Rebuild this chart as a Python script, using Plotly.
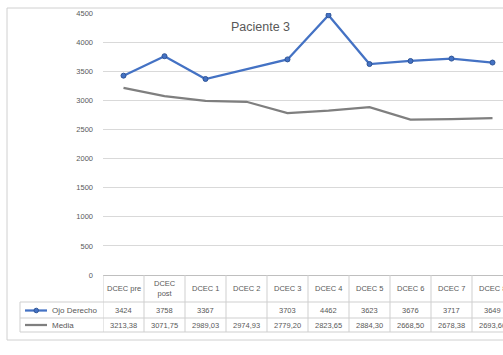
import plotly.graph_objects as go

# Sessions and measurements
categories = ["DCEC pre", "DCEC post", "DCEC 1", "DCEC 2", "DCEC 3",
              "DCEC 4", "DCEC 5", "DCEC 6", "DCEC 7", "DCEC 8"]
ojo_derecho = [3424, 3758, 3367, None, 3703, 4462, 3623, 3676, 3717, 3649]
media = [3213.38, 3071.75, 2989.03, 2974.93, 2779.20, 2823.65,
         2884.30, 2668.50, 2678.38, 2693.60]
y_ticks = [0, 500, 1000, 1500, 2000, 2500, 3000, 3500, 4000, 4500]

BLUE = "#4472c4"
GREY = "#7f7f7f"
TEXT = "#595959"
GRID = "#d9d9d9"
FONT = "Liberation Sans, Arial, sans-serif"

W, H = 503, 355
L, R, T, B = 103, 0, 13, 80
PLOT_H = H - T - B
PLOT_W = W - L - R
COL_W = 41.0  # pixel width of one category column


def py(p):
    """pixel row -> paper y"""
    return (H - B - p) / PLOT_H


def px(p):
    """pixel column -> paper x"""
    return (p - L) / PLOT_W


fig = go.Figure()
fig.add_trace(go.Scatter(
    x=categories, y=ojo_derecho, name="Ojo Derecho", mode="lines+markers",
    connectgaps=True, line=dict(color=BLUE, width=2.25),
    marker=dict(size=5, color=BLUE, line=dict(color="#2f5597", width=1)),
))
fig.add_trace(go.Scatter(
    x=categories, y=media, name="Media", mode="lines",
    line=dict(color=GREY, width=2.25),
))

x_max = PLOT_W / COL_W - 0.5

shapes = []
annotations = []

# chart area frame
shapes.append(dict(type="rect", xref="paper", yref="paper",
                   x0=px(7), x1=px(W + 20), y0=py(340), y1=py(8),
                   line=dict(color="#d0d0d0", width=1), layer="below"))

# data table grid
row_lines = [302, 318, 332]
for r in row_lines:
    shapes.append(dict(type="line", xref="paper", yref="paper",
                       x0=px(20), x1=px(W + 5), y0=py(r), y1=py(r),
                       line=dict(color="#cfcfcf", width=1)))
shapes.append(dict(type="line", xref="paper", yref="paper",
                   x0=px(20), x1=px(20), y0=py(302), y1=py(332),
                   line=dict(color="#cfcfcf", width=1)))
for i in range(len(categories)):
    shapes.append(dict(type="line", xref="x", yref="paper",
                       x0=i - 0.5, x1=i - 0.5, y0=0, y1=py(332),
                       line=dict(color="#cfcfcf", width=1)))

cell_font = dict(size=7.5, color=TEXT, family=FONT)

# table cells
for i, cat in enumerate(categories):
    head = cat.replace(" ", "<br>", 1) if len(cat) > 8 else cat
    annotations.append(dict(x=i, y=py(288.5), xref="x", yref="paper",
                            yanchor="middle", text=head, showarrow=False,
                            font=cell_font))
    v = ojo_derecho[i]
    if v is not None:
        annotations.append(dict(x=i, y=py(310.5), xref="x", yref="paper",
                                yanchor="middle", text=str(v),
                                showarrow=False, font=cell_font))
    annotations.append(dict(x=i, y=py(325), xref="x", yref="paper",
                            yanchor="middle",
                            text=f"{media[i]:.2f}".replace(".", ","),
                            showarrow=False, font=cell_font))

# legend keys inside the table
for name, color, yy, marker in [("Ojo Derecho", BLUE, 310.5, True),
                                ("Media", GREY, 325, False)]:
    shapes.append(dict(type="line", xref="paper", yref="paper",
                       x0=px(25), x1=px(47), y0=py(yy), y1=py(yy),
                       line=dict(color=color, width=2.25)))
    if marker:
        shapes.append(dict(type="circle", xref="paper", yref="paper",
                           x0=px(34), x1=px(38.5), y0=py(yy - 2.3), y1=py(yy + 2.3),
                           fillcolor=color, line=dict(color="#2f5597", width=1)))
    annotations.append(dict(x=px(50), y=py(yy), xref="paper", yref="paper",
                            text=name, showarrow=False, xanchor="left",
                            yanchor="middle",
                            font=dict(size=8, color=TEXT, family=FONT)))

# chart title
annotations.append(dict(x=px(260), y=py(27), xref="paper", yref="paper",
                        yanchor="middle",
                        text="Paciente 3", showarrow=False,
                        font=dict(size=12.5, color=TEXT, family=FONT)))

fig.update_layout(
    width=W, height=H,
    margin=dict(l=L, r=R, t=T, b=B, pad=0),
    paper_bgcolor="white", plot_bgcolor="white",
    showlegend=False,
    shapes=shapes, annotations=annotations,
    font=dict(family=FONT, color=TEXT),
)
fig.update_xaxes(type="category", range=[-0.5, x_max], showticklabels=False,
                 showgrid=False, showline=True, linecolor="#bfbfbf",
                 linewidth=1, ticks="", zeroline=False)
fig.update_yaxes(range=[0, 4500], tickvals=y_ticks, showgrid=True,
                 gridcolor=GRID, gridwidth=1, showline=False, zeroline=False,
                 ticks="", ticklabelstandoff=9,
                 tickfont=dict(size=7.5, color=TEXT, family=FONT))

fig.write_html("out.html")
